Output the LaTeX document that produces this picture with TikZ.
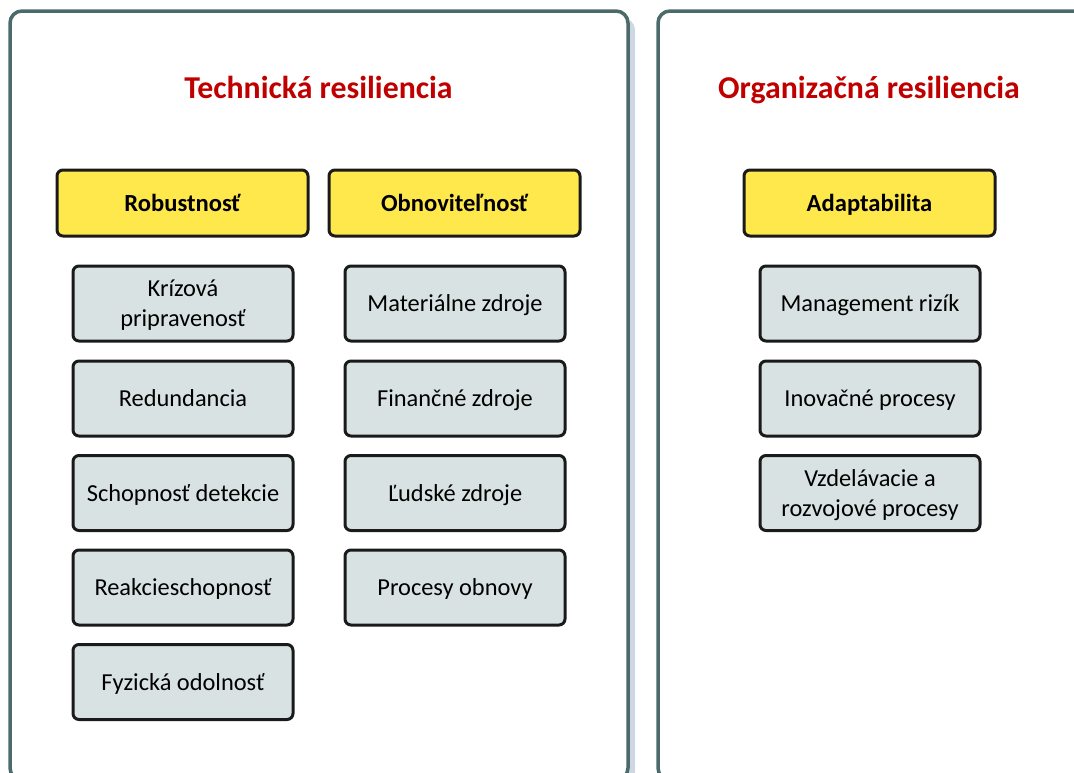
\documentclass[tikz,border=0pt]{standalone}
\usepackage{fontspec}
\setmainfont{Carlito}
\definecolor{panelline}{HTML}{4D6A6B}
\definecolor{panelshade}{HTML}{CDD8E2}
\definecolor{headred}{HTML}{C00000}
\definecolor{groupyellow}{HTML}{FFE84B}
\definecolor{itemgray}{HTML}{D9E2E2}
\definecolor{boxline}{HTML}{1A1A1A}
\begin{document}
\begin{tikzpicture}[x=1pt,y=-1pt,
  panel/.style={draw=panelline, line width=3.5pt, fill=white, rounded corners=12pt},
  panelshadow/.style={fill=panelshade, rounded corners=12pt},
  heading/.style={font=\fontsize{31.8}{38}\selectfont\bfseries, text=headred,
    inner sep=0pt, text height=20.4pt, text depth=0pt},
  groupbox/.style={draw=boxline, line width=3pt, fill=groupyellow, rounded corners=6pt,
    minimum width=251pt, minimum height=66pt, inner sep=0pt,
    text height=16.4pt, text depth=0pt, font=\fontsize{24.6}{29.5}\selectfont\bfseries},
  itembox/.style={draw=boxline, line width=3pt, fill=itemgray, rounded corners=6pt,
    minimum width=220pt, minimum height=75pt, inner sep=0pt, align=center,
    text height=16.4pt, text depth=0pt, font=\fontsize{24.4}{30}\selectfont},
  twoline/.style={text height=46.4pt, text depth=0pt}]
\useasboundingbox (0,0) rectangle (1074,772);

% two panels, the left one with a soft shadow on its right side
\fill[panelshadow] (17,18) rectangle (635,790);
\draw[panel] (10,11) rectangle (628,780);
\draw[panel] (658,11) rectangle (1110,780);

% panel headings
\node[heading] (tech) at (318.5,88) {Technická resiliencia};
\node[heading] (org)  at (869,88)   {Organizačná resiliencia};

% group headers
\node[groupbox] (rob) at (182.5,203) {Robustnosť};
\node[groupbox] (obn) at (454.5,203) {Obnoviteľnosť};
\node[groupbox] (ada) at (869.5,203) {Adaptabilita};

% robustness items
\node[itembox, twoline] (r1) at (183,303.5) {Krízová\\pripravenosť};
\node[itembox] (r2) at (183,398.5) {Redundancia};
\node[itembox] (r3) at (183,493)   {Schopnosť detekcie};
\node[itembox] (r4) at (183,587.5) {Reakcieschopnosť};
\node[itembox] (r5) at (183,682)   {Fyzická odolnosť};

% recoverability items
\node[itembox] (o1) at (455,303.5) {Materiálne zdroje};
\node[itembox] (o2) at (455,398.5) {Finančné zdroje};
\node[itembox] (o3) at (455,493)   {Ľudské zdroje};
\node[itembox] (o4) at (455,587.5) {Procesy obnovy};

% adaptability items
\node[itembox] (a1) at (870,303.5) {Management rizík};
\node[itembox] (a2) at (870,398.5) {Inovačné procesy};
\node[itembox, twoline] (a3) at (870,493) {Vzdelávacie a\\rozvojové procesy};
\end{tikzpicture}
\end{document}
